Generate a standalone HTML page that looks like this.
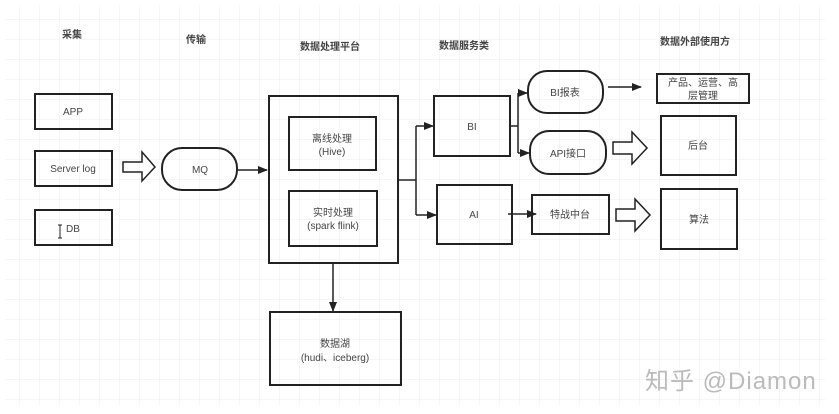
<!DOCTYPE html>
<html><head><meta charset="utf-8"><style>
html,body{margin:0;padding:0;background:#fff;}
svg{display:block;}
text{font-family:"Liberation Sans","Noto Sans CJK SC",sans-serif;fill:#444;}
</style></head><body>
<svg width="839" height="414" viewBox="0 0 839 414" xmlns="http://www.w3.org/2000/svg">
<defs>
<pattern id="g" width="20" height="20" patternUnits="userSpaceOnUse">
<path d="M20 0V20M0 20H20" stroke="#eee" stroke-width="1" fill="none"/>
</pattern>
<marker id="a" markerWidth="10" markerHeight="10" refX="9" refY="5" orient="auto" markerUnits="userSpaceOnUse">
<path d="M0 1L10 5L0 9Z" fill="#222"/>
</marker>
</defs>
<rect width="839" height="414" fill="#fff"/>
<rect x="5" y="5" width="820" height="400" fill="url(#g)"/>
<g font-size="10" font-weight="bold" text-anchor="middle">
<text x="72" y="38">采集</text>
<text x="196" y="43">传输</text>
<text x="330" y="50">数据处理平台</text>
<text x="464" y="49">数据服务类</text>
<text x="695" y="45">数据外部使用方</text>
</g>
<g fill="none" stroke="#222" stroke-width="2">
<rect x="35" y="94" width="77" height="35"/>
<rect x="35" y="151" width="77" height="35"/>
<rect x="35" y="210" width="77" height="35"/>
<path d="M123 162H142V152L155 167L142 181V172H123Z" stroke-width="1.5"/>
<rect x="162" y="148" width="75" height="42" rx="20"/>
<rect x="269" y="96" width="129" height="167"/>
<rect x="289" y="117" width="87" height="53"/>
<rect x="289" y="191" width="88" height="55"/>
<rect x="434" y="96" width="76" height="60"/>
<rect x="437" y="185" width="75" height="59"/>
<rect x="528" y="71" width="75" height="42" rx="19"/>
<rect x="530" y="131" width="76" height="43" rx="19"/>
<rect x="657" y="74" width="92" height="29"/>
<rect x="661" y="116" width="75" height="59"/>
<rect x="532" y="195" width="77" height="39"/>
<rect x="661" y="189" width="76" height="60"/>
<rect x="270" y="312" width="131" height="73"/>
<path d="M613 142H632V132L647 148L632 164V154H613Z" stroke-width="1.5"/>
<path d="M616 209H635V199L650 215L635 231V221H616Z" stroke-width="1.5"/>
</g>
<g fill="none" stroke="#222" stroke-width="1.5">
<path d="M237 170H267" marker-end="url(#a)"/>
<path d="M398 180H416"/>
<path d="M416 126V215"/>
<path d="M416 126H433" marker-end="url(#a)"/>
<path d="M416 215H436" marker-end="url(#a)"/>
<path d="M510 126H518"/>
<path d="M518 93V153"/>
<path d="M518 93H527" marker-end="url(#a)"/>
<path d="M518 153H529" marker-end="url(#a)"/>
<path d="M608 87H641" marker-end="url(#a)"/>
<path d="M508 214H536" marker-end="url(#a)"/>
<path d="M333 263V311" marker-end="url(#a)"/>
</g>
<g font-size="10" text-anchor="middle">
<text x="73" y="115">APP</text>
<text x="73" y="172">Server log</text>
<text x="73" y="232">DB</text>
<text x="200" y="173">MQ</text>
<text x="332" y="142">离线处理</text>
<text x="332" y="155">(Hive)</text>
<text x="333" y="216">实时处理</text>
<text x="333" y="229">(spark flink)</text>
<text x="472" y="130">BI</text>
<text x="474" y="218">AI</text>
<text x="565" y="96">BI报表</text>
<text x="568" y="157">API接口</text>
<text x="703" y="86">产品、运营、高</text>
<text x="703" y="99">层管理</text>
<text x="698" y="149">后台</text>
<text x="570" y="218">特战中台</text>
<text x="699" y="223">算法</text>
<text x="335" y="347">数据湖</text>
<text x="335" y="361">(hudi、iceberg)</text>
</g>
<path d="M58 225H62M60 225V238M58 238H62" stroke="#222" stroke-width="1"/>
<text x="645" y="389" font-size="24" letter-spacing="1" style="fill:#bbb">知乎 @Diamon</text>
</svg>
</body></html>
